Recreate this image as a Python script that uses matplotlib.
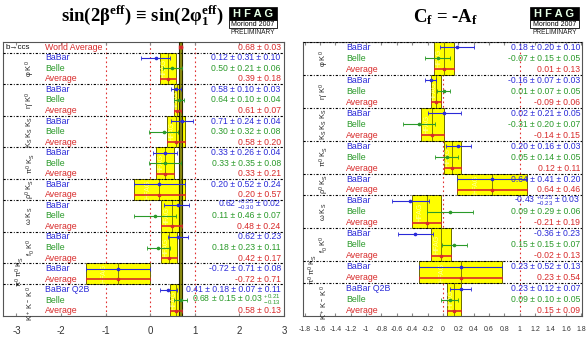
import numpy as np
import matplotlib
matplotlib.use("Agg")
import matplotlib.pyplot as plt
from matplotlib.patches import Rectangle
import matplotlib.transforms as mtrans

plt.rcParams['font.family'] = ['Liberation Sans', 'DejaVu Sans']
plt.rcParams['mathtext.default'] = 'regular'

# ---------------- data: left panel  sin(2beta_eff) ----------------
wa_val = 0.68
wa_err = 0.03
wa_text = "0.68 ± 0.03"

left_groups = ["φ K$^0$", "η′ K$^0$", "K$_S$ K$_S$ K$_S$", "π$^0$ K$_S$", "ρ$^0$ K$_S$",
               "ω K$_S$", "f$_0$ K$^0$", "π$^0$ π$^0$ K$_S$", "K$^+$ K$^-$ K$^0$"]
left_sizes = [3, 3, 3, 3, 2, 3, 3, 2, 3]
left_exp = ["BaBar", "Belle", "Average",
            "BaBar", "Belle", "Average",
            "BaBar", "Belle", "Average",
            "BaBar", "Belle", "Average",
            "BaBar", "Average",
            "BaBar", "Belle", "Average",
            "BaBar", "Belle", "Average",
            "BaBar", "Average",
            "BaBar Q2B", "Belle", "Average"]
left_val = [0.12, 0.50, 0.39,
            0.58, 0.64, 0.61,
            0.71, 0.30, 0.58,
            0.33, 0.33, 0.33,
            0.20, 0.20,
            0.62, 0.11, 0.48,
            0.62, 0.18, 0.42,
            -0.72, -0.72,
            0.41, 0.68, 0.58]
left_stat_hi = [0.31, 0.21, 0.18,
                0.10, 0.10, 0.07,
                0.24, 0.32, 0.20,
                0.26, 0.35, 0.21,
                0.52, 0.57,
                0.25, 0.46, 0.24,
                0.23, 0.23, 0.17,
                0.71, 0.71,
                0.18, 0.15, 0.13]
left_stat_lo = [0.31, 0.21, 0.18,
                0.10, 0.10, 0.07,
                0.24, 0.32, 0.20,
                0.26, 0.35, 0.21,
                0.52, 0.57,
                0.30, 0.46, 0.24,
                0.23, 0.23, 0.17,
                0.71, 0.71,
                0.18, 0.15, 0.13]
left_syst = [0.10, 0.06, 0.0,
             0.03, 0.04, 0.0,
             0.04, 0.08, 0.0,
             0.04, 0.08, 0.0,
             0.24, 0.0,
             0.02, 0.07, 0.0,
             0.0, 0.11, 0.0,
             0.08, 0.0,
             0.07, 0.03, 0.0]
left_text = ["0.12 ± 0.31 ± 0.10", "0.50 ± 0.21 ± 0.06", "0.39 ± 0.18",
             "0.58 ± 0.10 ± 0.03", "0.64 ± 0.10 ± 0.04", "0.61 ± 0.07",
             "0.71 ± 0.24 ± 0.04", "0.30 ± 0.32 ± 0.08", "0.58 ± 0.20",
             "0.33 ± 0.26 ± 0.04", "0.33 ± 0.35 ± 0.08", "0.33 ± 0.21",
             "0.20 ± 0.52 ± 0.24", "0.20 ± 0.57",
             "0.62 $^{+0.25}_{-0.30}$ ± 0.02", "0.11 ± 0.46 ± 0.07", "0.48 ± 0.24",
             "0.62 ± 0.23", "0.18 ± 0.23 ± 0.11", "0.42 ± 0.17",
             "-0.72 ± 0.71 ± 0.08", "-0.72 ± 0.71",
             "0.41 ± 0.18 ± 0.07 ± 0.11", "0.68 ± 0.15 ± 0.03 $^{+0.21}_{-0.13}$", "0.58 ± 0.13"]
left_ticks = [-3, -2, -1, 0, 1, 2, 3]
left_vlines = [-1, 0, 1]

# ---------------- data: right panel  C_f = -A_f ----------------
right_groups = left_groups
right_sizes = left_sizes
right_exp = left_exp
right_val = [0.18, -0.07, 0.01,
             -0.16, 0.01, -0.09,
             0.02, -0.31, -0.14,
             0.20, 0.05, 0.12,
             0.64, 0.64,
             -0.43, 0.09, -0.21,
             -0.36, 0.15, -0.02,
             0.23, 0.23,
             0.23, 0.09, 0.15]
right_stat_hi = [0.20, 0.15, 0.13,
                 0.07, 0.07, 0.06,
                 0.21, 0.20, 0.15,
                 0.16, 0.14, 0.11,
                 0.41, 0.46,
                 0.25, 0.29, 0.19,
                 0.23, 0.15, 0.13,
                 0.52, 0.54,
                 0.12, 0.10, 0.09]
right_stat_lo = [0.20, 0.15, 0.13,
                 0.07, 0.07, 0.06,
                 0.21, 0.20, 0.15,
                 0.16, 0.14, 0.11,
                 0.41, 0.46,
                 0.23, 0.29, 0.19,
                 0.23, 0.15, 0.13,
                 0.52, 0.54,
                 0.12, 0.10, 0.09]
right_syst = [0.10, 0.05, 0.0,
              0.03, 0.05, 0.0,
              0.05, 0.07, 0.0,
              0.03, 0.05, 0.0,
              0.20, 0.0,
              0.03, 0.06, 0.0,
              0.0, 0.07, 0.0,
              0.13, 0.0,
              0.07, 0.05, 0.0]
right_text = ["0.18 ± 0.20 ± 0.10", "-0.07 ± 0.15 ± 0.05", "0.01 ± 0.13",
              "-0.16 ± 0.07 ± 0.03", "0.01 ± 0.07 ± 0.05", "-0.09 ± 0.06",
              "0.02 ± 0.21 ± 0.05", "-0.31 ± 0.20 ± 0.07", "-0.14 ± 0.15",
              "0.20 ± 0.16 ± 0.03", "0.05 ± 0.14 ± 0.05", "0.12 ± 0.11",
              "0.64 ± 0.41 ± 0.20", "0.64 ± 0.46",
              "-0.43 $^{+0.25}_{-0.23}$ ± 0.03", "0.09 ± 0.29 ± 0.06", "-0.21 ± 0.19",
              "-0.36 ± 0.23", "0.15 ± 0.15 ± 0.07", "-0.02 ± 0.13",
              "0.23 ± 0.52 ± 0.13", "0.23 ± 0.54",
              "0.23 ± 0.12 ± 0.07", "0.09 ± 0.10 ± 0.05", "0.15 ± 0.09"]
right_ticks = [-1.8, -1.6, -1.4, -1.2, -1, -0.8, -0.6, -0.4, -0.2, 0,
               0.2, 0.4, 0.6, 0.8, 1, 1.2, 1.4, 1.6, 1.8]
right_tick_labels = ["-1.8", "-1.6", "-1.4", "-1.2", "-1", "-0.8", "-0.6", "-0.4", "-0.2", "0",
                     "0.2", "0.4", "0.6", "0.8", "1", "1.2", "1.4", "1.6", "1.8"]
right_vlines = [0, 1]

# nudges of the rotated group labels: rows (vertical) and pixels (horizontal)
LABEL_SHIFT = [0, 0, 0, 0, 0, 0, 0, -0.25, 0.3]
LABEL_DX = [0, 0, 0, 0, 0, 0, 0, -11, 0]

COLORS = {"BaBar": "#2a2ad8", "BaBar Q2B": "#2a2ad8", "Belle": "#2a9a2a", "Average": "#d82a2a"}

W, H = 588, 344
fig = plt.figure(figsize=(W / 100, H / 100), dpi=100)


def px_axes(x0, y0, x1, y1):
    return fig.add_axes([x0 / W, 1 - y1 / H, (x1 - x0) / W, (y1 - y0) / H])


def draw_panel(ax, groups, sizes, exp, val, shi, slo, syst, txt, xlim, vlines,
               row0, label_x, tfs, width_px):
    nrows = row0 + len(exp)
    ax.set_xlim(*xlim)
    ax.set_ylim(nrows - 0.5, -0.5)
    ax.set_yticks([])
    for v in vlines:
        ax.axvline(v, color="#e03030", ls=(0, (1.5, 2.5)), lw=0.8, zorder=1)
    trans = mtrans.blended_transform_factory(ax.transAxes, ax.transData)
    i = 0
    r = row0
    for gi, (g, n) in enumerate(zip(groups, sizes)):
        # group separator
        ax.axhline(r - 0.5, color="black", ls=(0, (2, 1.5, 0.8, 1.5)), lw=0.8, zorder=6)
        avg_i = i + n - 1
        a = val[avg_i]
        e = shi[avg_i]
        box = Rectangle((a - e, r - 0.5), 2 * e, n, facecolor="#ffff00",
                        edgecolor="#6b6b00", lw=0.7, zorder=2)
        ax.add_patch(box)
        ax.plot([a, a], [r - 0.5, r + n - 0.5], color="#6b6b00", lw=0.6, zorder=3)
        wm = ax.text(a - e * 0.45, r + n / 2 - 0.5, "HFAG", rotation=90, color="white",
                     alpha=0.6, fontsize=5, ha="center", va="center", zorder=3)
        wm.set_clip_path(box)
        ax.text(label_x + LABEL_DX[gi] / width_px, r + n / 2 - 0.5 + LABEL_SHIFT[gi], g,
                rotation=90, transform=trans,
                ha="center", va="center", fontsize=5.4, color="#222222")
        for k in range(n):
            j = i + k
            y = r + k
            c = COLORS[exp[j]]
            hi = np.hypot(shi[j], syst[j])
            lo = np.hypot(slo[j], syst[j])
            lw = 1.2 if exp[j] == "Average" else 0.8
            ax.errorbar([val[j]], [y], xerr=[[lo], [hi]], fmt="o", ms=1.6, color=c,
                        lw=lw, capsize=1.2, capthick=0.6, zorder=5)
            ax.text(tfs[0], y, exp[j], transform=trans, color=c, fontsize=6.3,
                    ha="left", va="center", zorder=7)
            ax.text(tfs[1], y, txt[j], transform=trans, color=c, fontsize=6.2,
                    ha="right", va="center", zorder=7)
        i += n
        r += n
    ax.tick_params(axis="x", which="both", direction="in", top=True, bottom=True,
                   length=2, color="#888888", labelcolor="#333333")
    for s in ax.spines.values():
        s.set_color("#555555")
        s.set_linewidth(0.8)


# ---------------- left panel ----------------
axL = px_axes(3, 42, 284, 316)
axL.axvspan(wa_val - wa_err, wa_val + wa_err, facecolor="#8f8f10", edgecolor="#2a2a00",
            lw=0.8, zorder=4)
draw_panel(axL, left_groups, left_sizes, left_exp, left_val, left_stat_hi, left_stat_lo,
           left_syst, left_text, (-3.3, 3.0), left_vlines, 1, 0.097, (0.149, 0.988), 281)
transL = mtrans.blended_transform_factory(axL.transAxes, axL.transData)
axL.errorbar([wa_val], [0], xerr=[[wa_err], [wa_err]], fmt="o", ms=1.6, color="#d82a2a",
             lw=1.0, capsize=1.2, zorder=5)
axL.text(0.149, 0, "World Average", transform=transL, color="#d82a2a", fontsize=6.3,
         ha="left", va="center")
axL.text(0.988, 0, wa_text, transform=transL, color="#d82a2a", fontsize=6.2,
         ha="right", va="center")
axL.text(0.008, 0, "b→ccs", transform=transL, color="#111111", fontsize=5.8,
         ha="left", va="center")
axL.set_xticks(left_ticks)
axL.set_xticklabels([str(t) for t in left_ticks])
axL.tick_params(axis="x", labelsize=7, pad=7)

# ---------------- right panel ----------------
axR = px_axes(303, 42, 582, 316)
draw_panel(axR, right_groups, right_sizes, right_exp, right_val, right_stat_hi,
           right_stat_lo, right_syst, right_text, (-1.82, 1.81), right_vlines, 0,
           0.075, (0.154, 0.993), 279)
axR.set_xticks(right_ticks)
axR.set_xticklabels(right_tick_labels)
axR.tick_params(axis="x", labelsize=5, pad=7)

# ---------------- titles ----------------
fig.text(142 / W, 1 - 16 / H, "sin(2β$^{eff}$) ≡ sin(2φ$_1^{eff}$)",
         family=["Liberation Serif", "DejaVu Serif"], weight="bold", fontsize=13.5,
         ha="center", va="center")
fig.text(446 / W, 1 - 17 / H, "C$_f$ = -A$_f$",
         family=["Liberation Serif", "DejaVu Serif"], weight="bold", fontsize=13.5,
         ha="center", va="center")


def logo(x0, x1, y0):
    xm = (x0 + x1) / 2
    fig.add_artist(Rectangle((x0 / W, 1 - (y0 + 13) / H), (x1 - x0) / W, 13 / H,
                             transform=fig.transFigure, facecolor="black",
                             edgecolor="black", lw=0.5))
    fig.text(xm / W, 1 - (y0 + 6.8) / H, "H F A G", color="#e6ffe6", weight="bold",
             fontsize=8.0, ha="center", va="center")
    fig.add_artist(Rectangle((x0 / W, 1 - (y0 + 21) / H), (x1 - x0) / W, 8 / H,
                             transform=fig.transFigure, facecolor="white",
                             edgecolor="black", lw=0.6))
    fig.text(xm / W, 1 - (y0 + 17.2) / H, "Moriond 2007", color="black",
             fontsize=5, ha="center", va="center")
    fig.text(xm / W, 1 - (y0 + 26.0) / H, "PRELIMINARY", color="#222222",
             fontsize=4.8, ha="center", va="center")


logo(229, 277, 7)
logo(530, 579, 7)

fig.savefig("out.png", dpi=100)
